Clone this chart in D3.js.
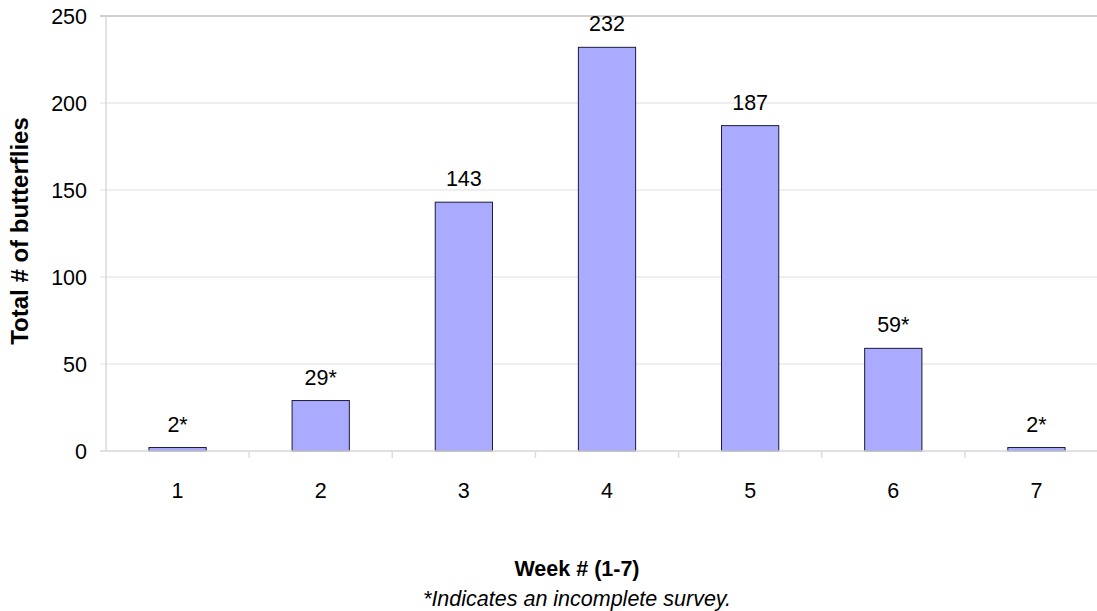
<!DOCTYPE html>
<html>
<head>
<meta charset="utf-8">
<script src="https://cdn.jsdelivr.net/npm/d3@7"></script>
<style>
  html, body { margin: 0; padding: 0; background: #fff; }
  svg { display: block; font-family: "Liberation Sans", Arial, sans-serif; }
</style>
</head>
<body>
<svg id="chart" width="1097" height="611"></svg>
<script>
// Weekly butterfly counts
const weeks = ["1", "2", "3", "4", "5", "6", "7"];
const counts = [2, 29, 143, 232, 187, 59, 2];
const labels = ["2*", "29*", "143", "232", "187", "59*", "2*"];
const yTicks = [0, 50, 100, 150, 200, 250];

const svg = d3.select("#chart");
const W = 1097;
const plotLeft = 106, plotRight = 1108, plotTop = 16, plotBottom = 451;
const FS = 21.5;

const x = d3.scaleBand()
  .domain(weeks)
  .range([plotLeft, plotRight])
  .paddingInner(0.6)
  .paddingOuter(0.3);

const band = d3.scaleBand().domain(weeks).range([plotLeft, plotRight]);

const y = d3.scaleLinear().domain([0, 250]).range([plotBottom, plotTop]);

// gridlines
svg.append("g").selectAll("line")
  .data(yTicks.filter(d => d > 0))
  .join("line")
  .attr("x1", plotLeft - 6).attr("x2", W)
  .attr("y1", d => y(d)).attr("y2", d => y(d))
  .attr("stroke", d => d === 250 ? "#a0a0a0" : "#e0e0e0")
  .attr("stroke-width", 1.2);

// left axis line
svg.append("line")
  .attr("x1", plotLeft).attr("x2", plotLeft)
  .attr("y1", plotTop).attr("y2", plotBottom)
  .attr("stroke", "#cfcfcf").attr("stroke-width", 1.2);

// y tick labels
svg.append("g").selectAll("text")
  .data(yTicks)
  .join("text")
  .attr("x", 87).attr("y", d => y(d))
  .attr("dy", "0.36em")
  .attr("text-anchor", "end")
  .attr("font-size", FS)
  .attr("fill", "#000")
  .text(d => d);

// bars
svg.append("g").selectAll("rect")
  .data(counts)
  .join("rect")
  .attr("x", (d, i) => x(weeks[i]))
  .attr("y", d => y(d))
  .attr("width", x.bandwidth())
  .attr("height", d => plotBottom - y(d))
  .attr("fill", "#aaaaff")
  .attr("stroke", "#1a1a3a")
  .attr("stroke-width", 1);

// baseline
svg.append("line")
  .attr("x1", plotLeft - 6).attr("x2", W)
  .attr("y1", plotBottom).attr("y2", plotBottom)
  .attr("stroke", "#d4d4dc").attr("stroke-width", 1.5);

// x ticks at band boundaries
svg.append("g").selectAll("line")
  .data(weeks.slice(1))
  .join("line")
  .attr("x1", d => band(d)).attr("x2", d => band(d))
  .attr("y1", plotBottom).attr("y2", plotBottom + 7)
  .attr("stroke", "#dcdce6").attr("stroke-width", 1.5);

// x tick labels
svg.append("g").selectAll("text")
  .data(weeks)
  .join("text")
  .attr("x", d => band(d) + band.bandwidth() / 2)
  .attr("y", 498)
  .attr("text-anchor", "middle")
  .attr("font-size", FS)
  .text(d => d);

// value labels
svg.append("g").selectAll("text")
  .data(counts)
  .join("text")
  .attr("x", (d, i) => x(weeks[i]) + x.bandwidth() / 2)
  .attr("y", d => y(d) - 16)
  .attr("text-anchor", "middle")
  .attr("font-size", FS)
  .text((d, i) => labels[i]);

// axis titles
svg.append("text")
  .attr("transform", "translate(28,231) rotate(-90)")
  .attr("text-anchor", "middle")
  .attr("font-size", 24)
  .attr("font-weight", "bold")
  .text("Total # of butterflies");

svg.append("text")
  .attr("x", 577).attr("y", 576)
  .attr("text-anchor", "middle")
  .attr("font-size", FS)
  .attr("font-weight", "bold")
  .text("Week # (1-7)");

svg.append("text")
  .attr("x", 577).attr("y", 606)
  .attr("text-anchor", "middle")
  .attr("font-size", FS)
  .attr("font-style", "italic")
  .text("*Indicates an incomplete survey.");
</script>
</body>
</html>
